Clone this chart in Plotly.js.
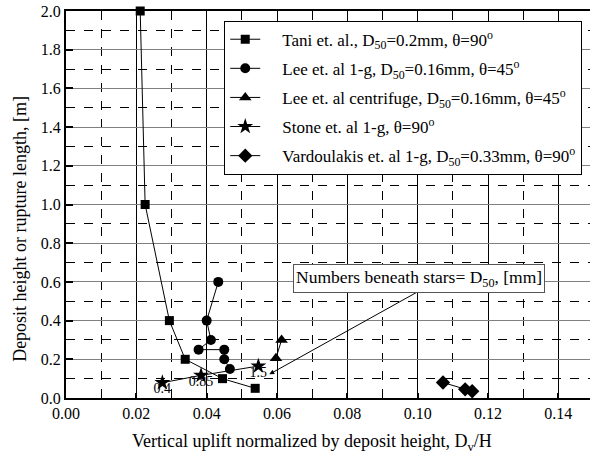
<!DOCTYPE html>
<html>
<head>
<meta charset="utf-8">
<script src="https://cdn.plot.ly/plotly-3.0.1.min.js"></script>
<style>html,body{margin:0;padding:0;background:#fff;}#chart{width:590px;height:461px;}</style>
</head>
<body>
<div id="chart"></div>
<script>
// Data
const taniX = [0.0211, 0.0225, 0.0294, 0.0339, 0.0445, 0.0538];
const taniY = [2.0, 1.0, 0.4, 0.2, 0.1, 0.05];
const lee1gX = [0.0433, 0.0400, 0.0412, 0.0377, 0.0450, 0.0450, 0.0466];
const lee1gY = [0.6, 0.4, 0.3, 0.25, 0.25, 0.2, 0.15];
const leeCentX = [0.0613, 0.0597];
const leeCentY = [0.30, 0.205];
const stoneX = [0.0274, 0.0384, 0.0547];
const stoneY = [0.079, 0.117, 0.165];
const stoneLabels = ['0.4', '0.85', '1.5'];
const vardX = [0.1072, 0.1135, 0.1155];
const vardY = [0.080, 0.045, 0.035];
const seriesNames = [
  'Tani et. al., D<sub>50</sub>=0.2mm, θ=90<sup>o</sup>',
  'Lee et. al 1-g, D<sub>50</sub>=0.16mm, θ=45<sup>o</sup>',
  'Lee et. al centrifuge, D<sub>50</sub>=0.16mm, θ=45<sup>o</sup>',
  'Stone et. al 1-g, θ=90<sup>o</sup>',
  'Vardoulakis et. al 1-g, D<sub>50</sub>=0.33mm, θ=90<sup>o</sup>'
];
const xTitle = 'Vertical uplift normalized by deposit height, D<sub>v</sub>/H';
const yTitle = 'Deposit height or rupture length, [m]';
const noteText = 'Numbers beneath stars= D<sub>50</sub>, [mm]';

const F = '"Liberation Serif", serif';
const pad = '\u00a0\u00a0\u00a0\u00a0';
const line = {color: '#000', width: 1};
function tr(x, y, name, symbol, size, g) {
  return {x: x, y: y, name: pad + name, legendgroup: g, type: 'scatter', mode: 'lines+markers',
    line: line, marker: {symbol: symbol, size: size, color: '#000'}, cliponaxis: false};
}
const data = [
  tr(taniX, taniY, seriesNames[0], 'square', 9, 'a'),
  tr(lee1gX, lee1gY, seriesNames[1], 'circle', 10, 'b'),
  tr(leeCentX, leeCentY, seriesNames[2], 'triangle-up', 11, 'c'),
  tr(stoneX, stoneY, seriesNames[3], 'star', 12, 'd'),
  tr(vardX, vardY, seriesNames[4], 'diamond', 11, 'e'),
  {x: stoneX, y: stoneY, text: stoneLabels, mode: 'text', type: 'scatter',
   textposition: 'bottom center', textfont: {family: F, size: 14, color: '#000'},
   showlegend: false, hoverinfo: 'skip', cliponaxis: false}
];

const layout = {
  width: 590, height: 461,
  margin: {l: 66, r: 0, t: 11, b: 63},
  paper_bgcolor: '#fff', plot_bgcolor: '#fff',
  font: {family: F, size: 16, color: '#000'},
  showlegend: true,
  legend: {x: 0.302, y: 0.975, xanchor: 'left', yanchor: 'top',
    bgcolor: '#fff', bordercolor: '#000', borderwidth: 1,
    font: {family: F, size: 17, color: '#000'}, tracegroupgap: 4},
  xaxis: {
    range: [0, 0.149], dtick: 0.02, tick0: 0, tickformat: '.2f',
    showgrid: true, gridcolor: '#000', gridwidth: 1,
    minor: {dtick: 0.01, showgrid: true, gridcolor: '#000', griddash: 'dash', gridwidth: 1},
    showline: true, linecolor: '#000', linewidth: 2, mirror: true,
    ticks: 'inside', ticklen: 5, tickcolor: '#000', tickwidth: 2,
    zeroline: false,
    tickfont: {family: F, size: 16}
  },
  yaxis: {
    range: [0, 2.0], dtick: 0.2, tick0: 0, tickformat: '.1f',
    showgrid: true, gridcolor: '#808080', gridwidth: 1,
    minor: {dtick: 0.1, showgrid: true, gridcolor: '#000', griddash: 'dash', gridwidth: 1},
    showline: true, linecolor: '#000', linewidth: 2,
    ticks: 'inside', ticklen: 7, tickcolor: '#000', tickwidth: 2,
    zeroline: false,
    tickfont: {family: F, size: 16}
  },
  annotations: [
    {x: 0.0578, y: 0.1225, ax: 0.1025, ay: 0.574, axref: 'x', ayref: 'y', xref: 'x', yref: 'y',
     text: '', showarrow: true, arrowhead: 2, arrowsize: 1, arrowwidth: 1, arrowcolor: '#000'},
    {x: 0.1005, y: 0.62, xref: 'x', yref: 'y', showarrow: false,
     text: noteText,
     font: {family: F, size: 17.5, color: '#000'},
     bgcolor: '#fff', bordercolor: '#555', borderwidth: 1, borderpad: 2},
    {x: 0.469, y: -0.115, xref: 'paper', yref: 'paper', xanchor: 'center', yanchor: 'middle',
     showarrow: false, text: xTitle, font: {family: F, size: 18, color: '#000'}},
    {x: -0.0878, y: 0.437, xref: 'paper', yref: 'paper', xanchor: 'center', yanchor: 'middle',
     textangle: -90, showarrow: false, text: yTitle, font: {family: F, size: 18, color: '#000'}}
  ]
};
Plotly.newPlot('chart', data, layout, {displayModeBar: false, staticPlot: true});
</script>
</body>
</html>
